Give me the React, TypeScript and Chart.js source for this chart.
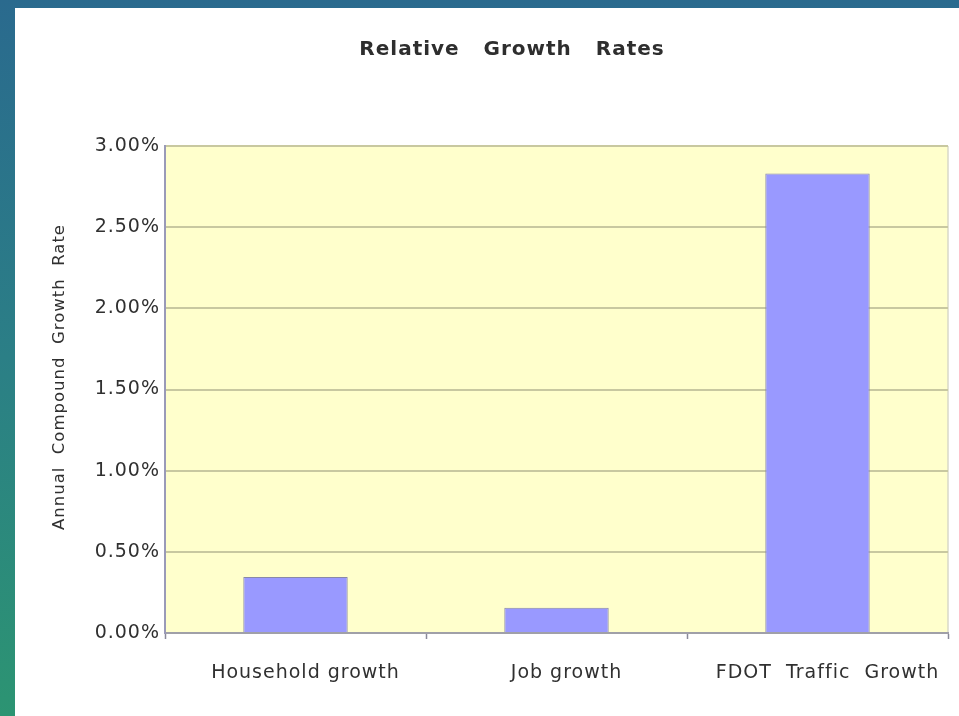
import React, { useEffect, useRef } from "react";
import { Chart, registerables } from "chart.js";

Chart.register(...registerables);

const categories = ["Household growth", "Job growth", "FDOT  Traffic  Growth"];
const growthRates = [0.345, 0.155, 2.83];
const yTicks = [0, 0.5, 1.0, 1.5, 2.0, 2.5, 3.0];
const chartTitle = "Relative   Growth   Rates";
const yAxisTitle = "    Annual  Compound  Growth  Rate";

const FONT = "'DejaVu Sans', Verdana, sans-serif";

const spacingPlugin = {
  id: "spacing",
  beforeUpdate(chart: any) {
    chart.ctx.letterSpacing = "1px";
  },
  beforeDraw(chart: any) {
    chart.ctx.letterSpacing = "1px";
  },
};

const plotBgPlugin = {
  id: "plotBg",
  beforeDraw(chart: any) {
    const { ctx, chartArea } = chart;
    ctx.save();
    ctx.fillStyle = "#ffffcc";
    ctx.fillRect(chartArea.left, chartArea.top, chartArea.right - chartArea.left, chartArea.bottom - chartArea.top);
    ctx.strokeStyle = "#d8d8c8";
    ctx.lineWidth = 1.5;
    ctx.beginPath();
    ctx.moveTo(chartArea.right, chartArea.top);
    ctx.lineTo(chartArea.right, chartArea.bottom);
    ctx.stroke();
    ctx.restore();
  },
};

const titlePlugin = {
  id: "customTitle",
  afterDraw(chart: any) {
    const { ctx } = chart;
    ctx.save();
    ctx.letterSpacing = "1px";
    ctx.font = `bold 20px ${FONT}`;
    ctx.fillStyle = "#2e2e2e";
    ctx.textAlign = "center";
    ctx.textBaseline = "middle";
    ctx.fillText(chartTitle, 512, 50);
    ctx.restore();
  },
};

export default function App() {
  const ref = useRef<HTMLCanvasElement | null>(null);

  useEffect(() => {
    if (!ref.current) return;
    const chart = new Chart(ref.current, {
      type: "bar",
      data: {
        labels: categories,
        datasets: [
          {
            data: growthRates,
            backgroundColor: "#9999ff",
            borderColor: "#8888a8",
            borderWidth: 1,
            categoryPercentage: 1,
            barPercentage: 0.4,
          },
        ],
      },
      plugins: [spacingPlugin, plotBgPlugin, titlePlugin],
      options: {
        animation: false,
        responsive: false,
        devicePixelRatio: 1,
        layout: { padding: { top: 146, left: 42, right: 11, bottom: 23 } },
        plugins: {
          legend: { display: false },
          title: { display: false },
          tooltip: { enabled: false },
        },
        scales: {
          x: {
            offset: true,
            grid: {
              offset: true,
              drawOnChartArea: false,
              drawTicks: true,
              tickLength: 6,
              tickColor: "#8a8a9a",
              tickWidth: 1.5,
            },
            border: { color: "#a0a0a8", width: 2 },
            ticks: {
              color: "#303030",
              font: { family: FONT, size: 19 },
              padding: 23,
              labelOffset: 10,
              maxRotation: 0,
            },
            afterFit(scale: any) {
              scale.height = 60;
            },
          },
          y: {
            min: 0,
            max: 3,
            afterBuildTicks(scale: any) {
              scale.ticks = yTicks.map((v) => ({ value: v }));
            },
            grid: {
              color: "#c8c8a0",
              lineWidth: 2,
              drawTicks: false,
            },
            border: { color: "#9a9ab8", width: 2 },
            ticks: {
              color: "#303030",
              font: { family: FONT, size: 19 },
              padding: 5,
              callback: (v: any) => Number(v).toFixed(2) + "%",
            },
            title: {
              display: true,
              text: yAxisTitle,
              color: "#303030",
              font: { family: FONT, size: 16.5 },
              padding: { top: 8, bottom: 0 },
            },
            afterFit(scale: any) {
              scale.width = 123;
            },
          },
        },
      },
    });
    return () => chart.destroy();
  }, []);

  return (
    <div
      style={{
        position: "fixed",
        left: 0,
        top: 0,
        width: 959,
        height: 716,
        overflow: "hidden",
        background: "linear-gradient(to bottom, #2a6a8e 0%, #2b7f86 50%, #2c9472 100%)",
      }}
    >
      <div style={{ position: "absolute", left: 15, top: 8, right: 0, bottom: 0, background: "#ffffff" }} />
      <canvas ref={ref} width={959} height={716} style={{ position: "absolute", left: 0, top: 0 }} />
    </div>
  );
}
